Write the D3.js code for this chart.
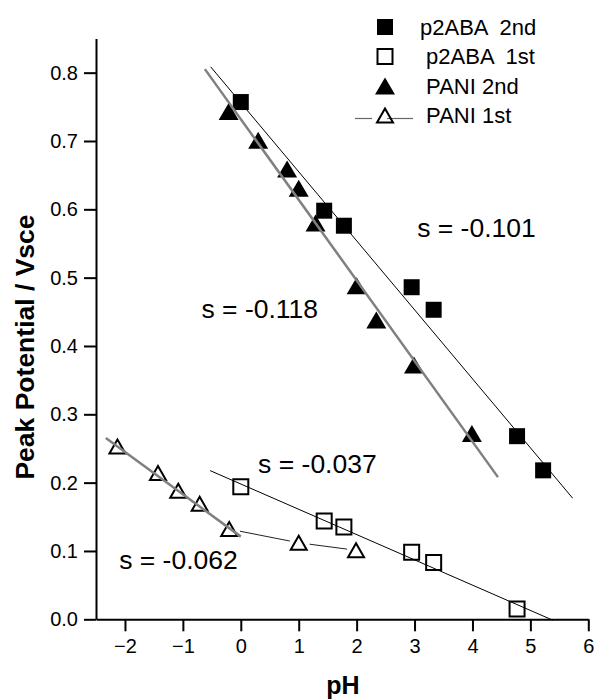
<!DOCTYPE html>
<html>
<head>
<meta charset="utf-8">
<script src="https://cdn.jsdelivr.net/npm/d3@7"></script>
<style>
  body { margin: 0; background: #fff; }
  svg { display: block; font-family: "Liberation Sans", Arial, sans-serif; }
</style>
</head>
<body>
<div id="viz"></div>
<script>
// values
var pH_p2aba2 = [0, 1.44, 1.78, 2.95, 3.33, 4.77, 5.22];
var E_p2aba2  = [0.757, 0.598, 0.576, 0.486, 0.453, 0.268, 0.218];
var pH_p2aba1 = [0, 1.44, 1.78, 2.95, 3.33, 4.77];
var E_p2aba1  = [0.194, 0.144, 0.135, 0.098, 0.083, 0.015];
var pH_pani2  = [-0.21, 0.30, 0.80, 1.00, 1.29, 2.00, 2.34, 2.99, 3.99];
var E_pani2   = [0.743, 0.701, 0.659, 0.631, 0.580, 0.488, 0.438, 0.372, 0.272];
var pH_pani1  = [-2.13, -1.43, -1.08, -0.71, -0.20, 1.00, 1.99];
var E_pani1   = [0.253, 0.214, 0.188, 0.169, 0.132, 0.112, 0.101];

var seriesNames = ['p2ABA  2nd', ' p2ABA  1st', ' PANI 2nd', ' PANI 1st'];

// linear fits: slope, intercept, pH range
var fitSlopes     = [-0.101, -0.037, -0.118, -0.062];
var fitIntercepts = [0.756, 0.198, 0.732, 0.121];
var fitFrom       = [-0.52, -0.53, -0.62, -2.33];
var fitTo         = [5.73, 5.39, 4.44, 0];
var slopeLabels   = ['s = -0.101', 's = -0.037', 's = -0.118', 's = -0.062'];

var yTicks = [0, 0.1, 0.2, 0.3, 0.4, 0.5, 0.6, 0.7, 0.8];
var xTicks = [-2, -1, 0, 1, 2, 3, 4, 5, 6];

var width = 595,
    height = 700;

var xScale = d3.scaleLinear().domain([-2.5, 6]).range([96, 588.3]);
var yScale = d3.scaleLinear().domain([0, 0.85]).range([619.3, 38.5]);

var svg = d3.select('#viz').append('svg')
  .attr('width', width)
  .attr('height', height);

function zip(xs, ys) {
  return xs.map(function(x, i) { return [x, ys[i]]; });
}

function tri(w, h) {
  return 'M0,' + (-h / 2) + 'L' + (w / 2) + ',' + (h / 2) + 'L' + (-w / 2) + ',' + (h / 2) + 'Z';
}
function sq(s) {
  return 'M' + (-s / 2) + ',' + (-s / 2) + 'h' + s + 'v' + s + 'h' + (-s) + 'Z';
}

var markers = [
  { d: sq(16), fill: '#000', stroke: 'none', sw: 0 },
  { d: sq(15), fill: 'none', stroke: '#000', sw: 2 },
  { d: tri(20, 17), fill: '#000', stroke: 'none', sw: 0 },
  { d: tri(16, 14), fill: 'none', stroke: '#000', sw: 2 }
];

var series = [
  zip(pH_p2aba2, E_p2aba2),
  zip(pH_p2aba1, E_p2aba1),
  zip(pH_pani2, E_pani2),
  zip(pH_pani1, E_pani1)
];

// axes
var yAxis = d3.axisLeft(yScale).tickValues(yTicks).tickSize(12).tickPadding(6)
  .tickSizeOuter(0).tickFormat(d3.format('.1f'));
var yMinor = d3.axisLeft(yScale).tickValues(d3.range(0.05, 0.86, 0.1)).tickSize(6)
  .tickSizeOuter(0).tickFormat('');
var xAxis = d3.axisBottom(xScale).tickValues(xTicks).tickSize(12).tickPadding(8)
  .tickSizeOuter(0).tickFormat(d3.format('d'));
var xMinor = d3.axisBottom(xScale).tickValues(d3.range(-2.5, 5.6, 1)).tickSize(6)
  .tickSizeOuter(0).tickFormat('');

var gy = svg.append('g').attr('transform', 'translate(96,0)');
gy.call(yMinor);
gy.call(yAxis);
var gx = svg.append('g').attr('transform', 'translate(0,619.3)');
gx.call(xMinor);
gx.call(xAxis);

svg.selectAll('.domain, .tick line')
  .attr('stroke', '#000')
  .attr('stroke-width', 2);
gy.selectAll('text').style('font-size', '20px').attr('fill', '#000')
  .style('font-family', '"Liberation Sans", Arial, sans-serif');
gx.selectAll('text').style('font-size', '20px').attr('fill', '#000')
  .style('font-family', '"Liberation Sans", Arial, sans-serif');

svg.append('text')
  .attr('transform', 'translate(34,347) rotate(-90)')
  .attr('text-anchor', 'middle')
  .style('font-size', '26.5px')
  .style('font-weight', 'bold')
  .text('Peak Potential / Vsce');

svg.append('text')
  .attr('x', 343)
  .attr('y', 694)
  .attr('text-anchor', 'middle')
  .style('font-size', '25px')
  .style('font-weight', 'bold')
  .text('pH');

// markers
series.forEach(function(data, k) {
  svg.append('g').selectAll('path').data(data)
    .enter().append('path')
      .attr('d', markers[k].d)
      .attr('transform', function(d) {
        return 'translate(' + xScale(d[0]) + ',' + yScale(d[1]) + ')';
      })
      .attr('fill', markers[k].fill)
      .attr('stroke', markers[k].stroke)
      .attr('stroke-width', markers[k].sw);
});

// PANI 1st connecting line (last points), gaps round the symbols
var conn = series[3].slice(4);
var gap = 11;
for (var i = 0; i < conn.length - 1; i++) {
  var x1 = xScale(conn[i][0]), y1 = yScale(conn[i][1]),
      x2 = xScale(conn[i + 1][0]), y2 = yScale(conn[i + 1][1]);
  var len = Math.sqrt((x2 - x1) * (x2 - x1) + (y2 - y1) * (y2 - y1));
  var ux = (x2 - x1) / len, uy = (y2 - y1) / len;
  svg.append('line')
    .attr('x1', x1 + ux * gap).attr('y1', y1 + uy * gap)
    .attr('x2', x2 - ux * (gap - 2)).attr('y2', y2 - uy * (gap - 2))
    .attr('stroke', '#222')
    .attr('stroke-width', 1);
}

// fit lines
var fitColors = ['#000', '#000', '#808080', '#808080'];
var fitWidths = [1, 1, 2.5, 2.5];
var line = d3.line()
  .x(function(d) { return xScale(d[0]); })
  .y(function(d) { return yScale(d[1]); });

fitSlopes.forEach(function(s, k) {
  var pts = [fitFrom[k], fitTo[k]].map(function(x) {
    return [x, fitIntercepts[k] + s * x];
  });
  svg.append('path')
    .attr('d', line(pts))
    .attr('fill', 'none')
    .attr('stroke', fitColors[k])
    .attr('stroke-width', fitWidths[k]);
});

// slope annotations (anchored in data units)
var labelAt = [[3.045, 0.5595], [0.299, 0.2137], [-0.679, 0.4405], [-2.10, 0.0732]];
slopeLabels.forEach(function(t, k) {
  svg.append('text')
    .attr('x', xScale(labelAt[k][0]))
    .attr('y', yScale(labelAt[k][1]))
    .style('font-size', '26.5px')
    .text(t);
});

// legend
var legend = svg.append('g');
seriesNames.forEach(function(name, k) {
  var cy = 27 + k * 29.5;
  if (k === 3) {
    legend.append('line').attr('x1', 355).attr('x2', 372)
      .attr('y1', cy + 3).attr('y2', cy + 3)
      .attr('stroke', '#666').attr('stroke-width', 1.2);
    legend.append('line').attr('x1', 387).attr('x2', 413)
      .attr('y1', cy + 3).attr('y2', cy + 3)
      .attr('stroke', '#666').attr('stroke-width', 1.2);
  }
  legend.append('path')
    .attr('d', markers[k].d)
    .attr('transform', 'translate(385,' + cy + ')')
    .attr('fill', markers[k].fill)
    .attr('stroke', markers[k].stroke)
    .attr('stroke-width', markers[k].sw);
  legend.append('text')
    .attr('x', 420)
    .attr('y', cy + 7.5)
    .style('font-size', '22px')
    .style('white-space', 'pre')
    .text(name);
});
</script>
</body>
</html>
